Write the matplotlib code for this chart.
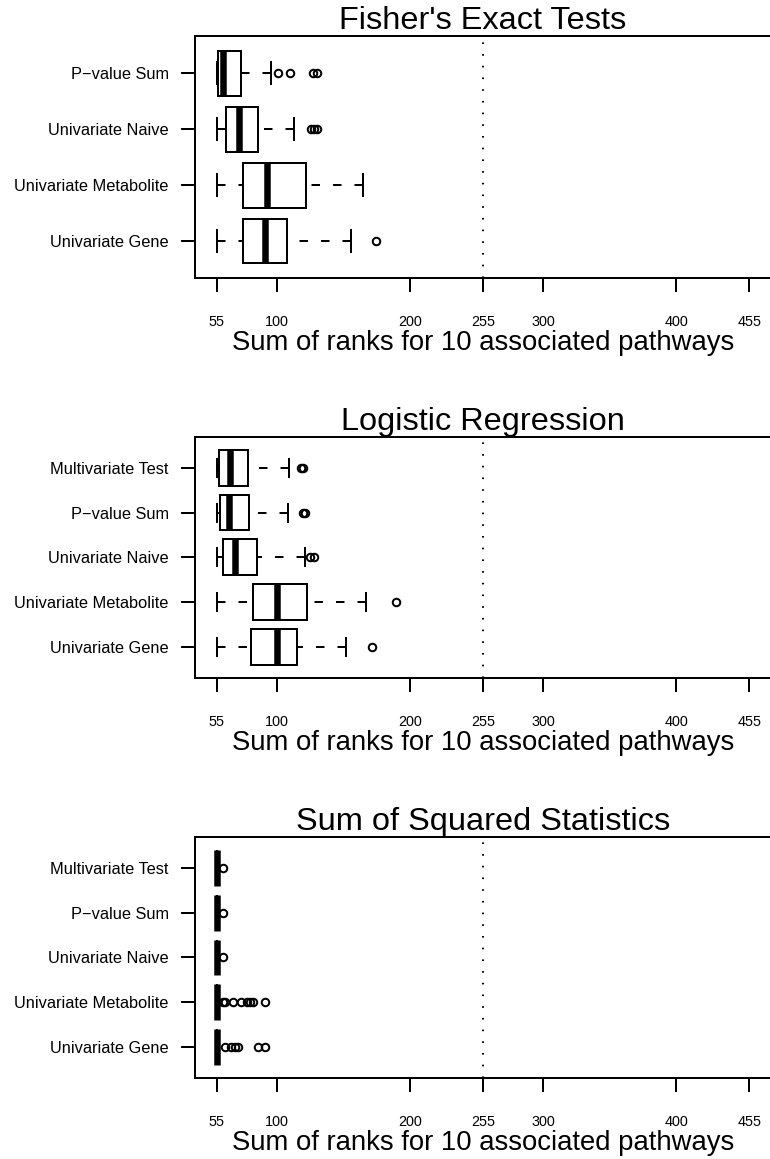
import matplotlib
matplotlib.use("Agg")
import matplotlib.pyplot as plt

plt.rcParams['font.family'] = ['Liberation Sans', 'DejaVu Sans']
plt.rcParams['lines.scale_dashes'] = False

W, H, DPI = 770, 1159, 100

# shared x axis
x_ticks = [55, 100, 200, 255, 300, 400, 455]
x_range = (55, 455)
x_label = "Sum of ranks for 10 associated pathways"
ref_value = 255

# Fisher's Exact Tests
fisher_names = ["Univariate Gene", "Univariate Metabolite", "Univariate Naive", "P\u2212value Sum"]
fisher_whislo = [55, 55, 55, 55]
fisher_q1 = [75, 75, 62, 56]
fisher_med = [91.5, 92.5, 71.5, 60]
fisher_q3 = [108, 122, 86, 73.5]
fisher_whishi = [156, 165, 113, 96]
fisher_fliers = [[175], [], [126, 128, 130], [101, 110, 127, 130]]

# Logistic Regression
logit_names = ["Univariate Gene", "Univariate Metabolite", "Univariate Naive",
               "P\u2212value Sum", "Multivariate Test"]
logit_whislo = [55, 55, 55, 55, 55]
logit_q1 = [81, 82, 60, 57.5, 57]
logit_med = [100, 100, 69, 64, 65]
logit_q3 = [115.5, 122.5, 85.5, 79, 78.5]
logit_whishi = [152, 167, 121, 108.5, 109]
logit_fliers = [[172], [190], [125, 128], [120, 121], [118, 119.5]]

# Sum of Squared Statistics
sss_names = ["Univariate Gene", "Univariate Metabolite", "Univariate Naive",
             "P\u2212value Sum", "Multivariate Test"]
sss_whislo = [55, 55, 55, 55, 55]
sss_q1 = [55, 55, 55, 55, 55]
sss_med = [55, 55, 55, 55, 55]
sss_q3 = [55, 55, 55, 55, 55]
sss_whishi = [55, 55, 55, 55, 55]
sss_fliers = [[61, 66, 69, 71, 86, 91], [60, 61, 67, 73, 78, 80, 82, 91], [60], [60], [60]]


def pt(pixels):
    return pixels * 72.0 / DPI


def draw_panel(ax, title, names, lo, q1, med, q3, hi, fliers):
    stats = [dict(label=n, whislo=a, q1=b, med=c, q3=d, whishi=e, fliers=f)
             for n, a, b, c, d, e, f in zip(names, lo, q1, med, q3, hi, fliers)]
    n = len(stats)
    pos = list(range(1, n + 1))
    art = ax.bxp(stats, positions=pos, widths=0.8, orientation='horizontal',
                 patch_artist=True, showfliers=True,
                 boxprops=dict(facecolor='white', edgecolor='black', linewidth=pt(2)),
                 medianprops=dict(color='black', linewidth=pt(6.5), solid_capstyle='butt'),
                 whiskerprops=dict(color='black', linewidth=pt(2),
                                   linestyle=(0, (pt(8.5), pt(13)))),
                 capprops=dict(color='black', linewidth=pt(2)),
                 flierprops=dict(marker='o', markerfacecolor='none', markeredgecolor='black',
                                 markersize=pt(7.5), markeredgewidth=pt(2), linestyle='none'))
    # dash pattern starts from the whisker end
    for w in art['whiskers']:
        w.set_xdata(list(w.get_xdata())[::-1])
        w.set_ydata(list(w.get_ydata())[::-1])

    ax.axvline(ref_value, color='black', linewidth=pt(2),
               linestyle=(0, (pt(1.6), pt(10.1))), zorder=0)

    span = x_range[1] - x_range[0]
    ax.set_xlim(x_range[0] - 0.04 * span, x_range[1] + 0.04 * span)
    ax.set_ylim(0.5 - 0.04 * n, n + 0.5 + 0.04 * n)
    ax.set_xticks(x_ticks)
    ax.set_xticklabels([str(v) for v in x_ticks])
    ax.set_yticks(pos)
    ax.set_yticklabels(names)
    ax.tick_params(axis='x', direction='out', length=pt(13.5), width=pt(2),
                   labelsize=10.4, pad=17)
    ax.tick_params(axis='y', direction='out', length=pt(13.5), width=pt(2),
                   labelsize=11.8, pad=pt(13))
    for s in ax.spines.values():
        s.set_linewidth(pt(2))
    ax.set_title(title, fontsize=23.4, pad=pt(6.5))
    ax.annotate(x_label, xy=(0.5, 0), xycoords='axes fraction',
                xytext=(0, -pt(72)), textcoords='offset points',
                ha='center', va='baseline', fontsize=19.8)


fig = plt.figure(figsize=(W / DPI, H / DPI), dpi=DPI)
left_px, right_px = 195.3, 770.8
panel_h = 241.7
tops = [36.3, 436.5, 836.6]

panels = [
    ("Fisher's Exact Tests", fisher_names, fisher_whislo, fisher_q1, fisher_med,
     fisher_q3, fisher_whishi, fisher_fliers),
    ("Logistic Regression", logit_names, logit_whislo, logit_q1, logit_med,
     logit_q3, logit_whishi, logit_fliers),
    ("Sum of Squared Statistics", sss_names, sss_whislo, sss_q1, sss_med,
     sss_q3, sss_whishi, sss_fliers),
]

for top, spec in zip(tops, panels):
    ax = fig.add_axes([left_px / W, 1 - (top + panel_h) / H,
                       (right_px - left_px) / W, panel_h / H])
    draw_panel(ax, *spec)

fig.savefig("out.png", dpi=DPI, facecolor='white')
